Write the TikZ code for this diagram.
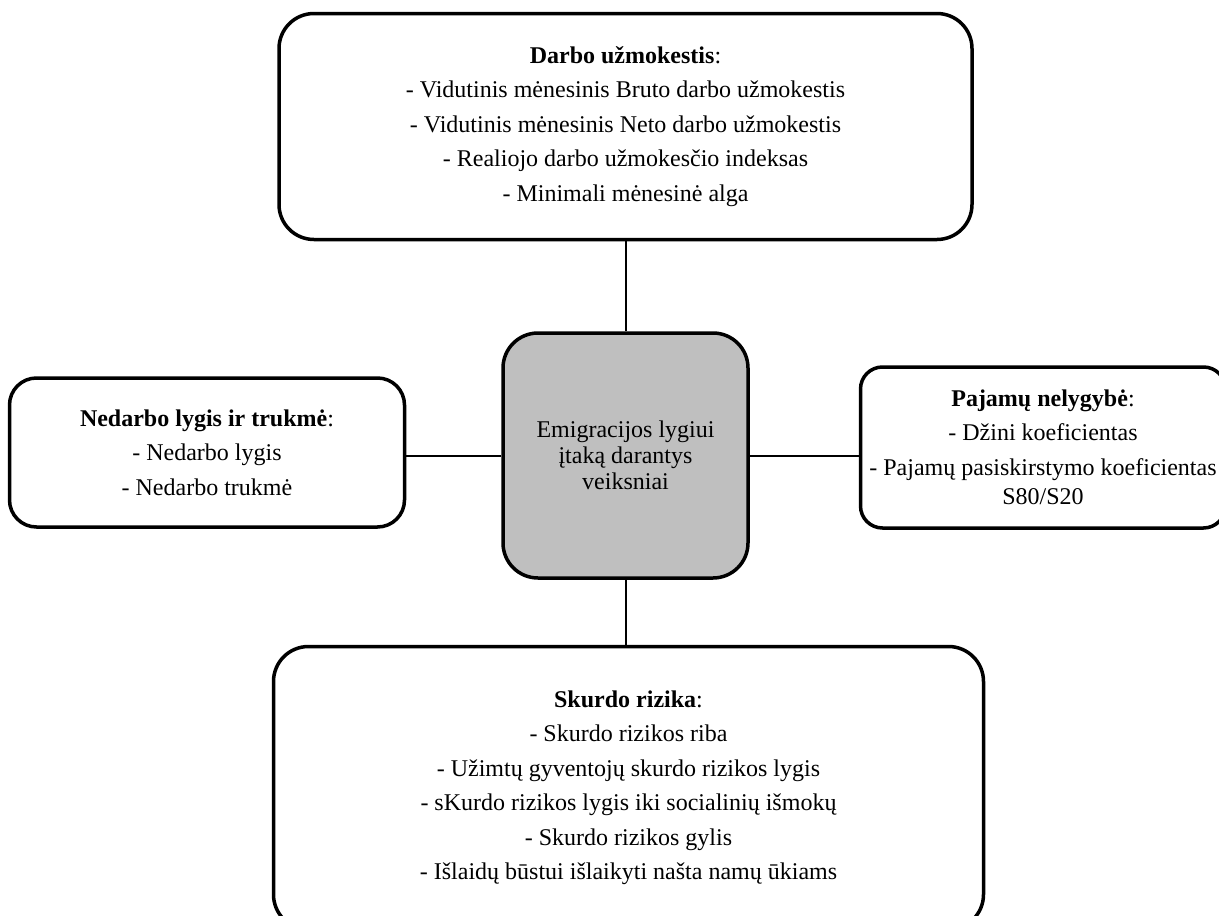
\documentclass[tikz,border=0pt]{standalone}
\usepackage{fontspec}
\setmainfont{Liberation Serif}
\usetikzlibrary{positioning}
\definecolor{boxgray}{rgb}{0.75,0.75,0.75}

\begin{document}
\begin{tikzpicture}[x=1pt,y=-1pt,
  every node/.style={rectangle,draw,line width=3.5pt,rounded corners=35pt,align=center,inner sep=0pt,font=\fontsize{24}{34.5}\selectfont},
  link/.style={line width=2pt}]
\clip (0,0) rectangle (1219,916);

\node[fill=boxgray,minimum width=245pt,minimum height=245pt,font=\fontsize{24}{26}\selectfont] (c) at (625.5,455.5) {Emigracijos lygiui\\įtaką darantys\\veiksniai};

\node[minimum width=693pt,minimum height=226pt,above=90pt of c] (a) {\textbf{Darbo užmokestis}:\\- Vidutinis mėnesinis Bruto darbo užmokestis\\- Vidutinis mėnesinis Neto darbo užmokestis\\- Realiojo darbo užmokesčio indeksas\\- Minimali mėnesinė alga};

\node[minimum width=395pt,minimum height=149pt,rounded corners=27pt,left=95pt of c,yshift=3pt] (b) {\textbf{Nedarbo lygis ir trukmė}:\\- Nedarbo lygis\\- Nedarbo trukmė};

\node[minimum width=365pt,minimum height=161pt,rounded corners=22pt,right=109pt of c,yshift=8pt] (d) {\textbf{Pajamų nelygybė}:\\- Džini koeficientas\\- Pajamų pasiskirstymo koeficientas\\[-5pt]S80/S20};

\node[minimum width=710pt,minimum height=283pt,below=65pt of c,xshift=3pt] (e) {\textbf{Skurdo rizika}:\\- Skurdo rizikos riba\\- Užimtų gyventojų skurdo rizikos lygis\\- sKurdo rizikos lygis iki socialinių išmokų\\- Skurdo rizikos gylis\\- Išlaidų būstui išlaikyti našta namų ūkiams};

\draw[link] (c.north) -- (a.south);
\draw[link] (c.west) -- (c.west -| b.east);
\draw[link] (c.east) -- (c.east -| d.west);
\draw[link] (c.south) -- (c.south |- e.north);
\end{tikzpicture}
\end{document}
